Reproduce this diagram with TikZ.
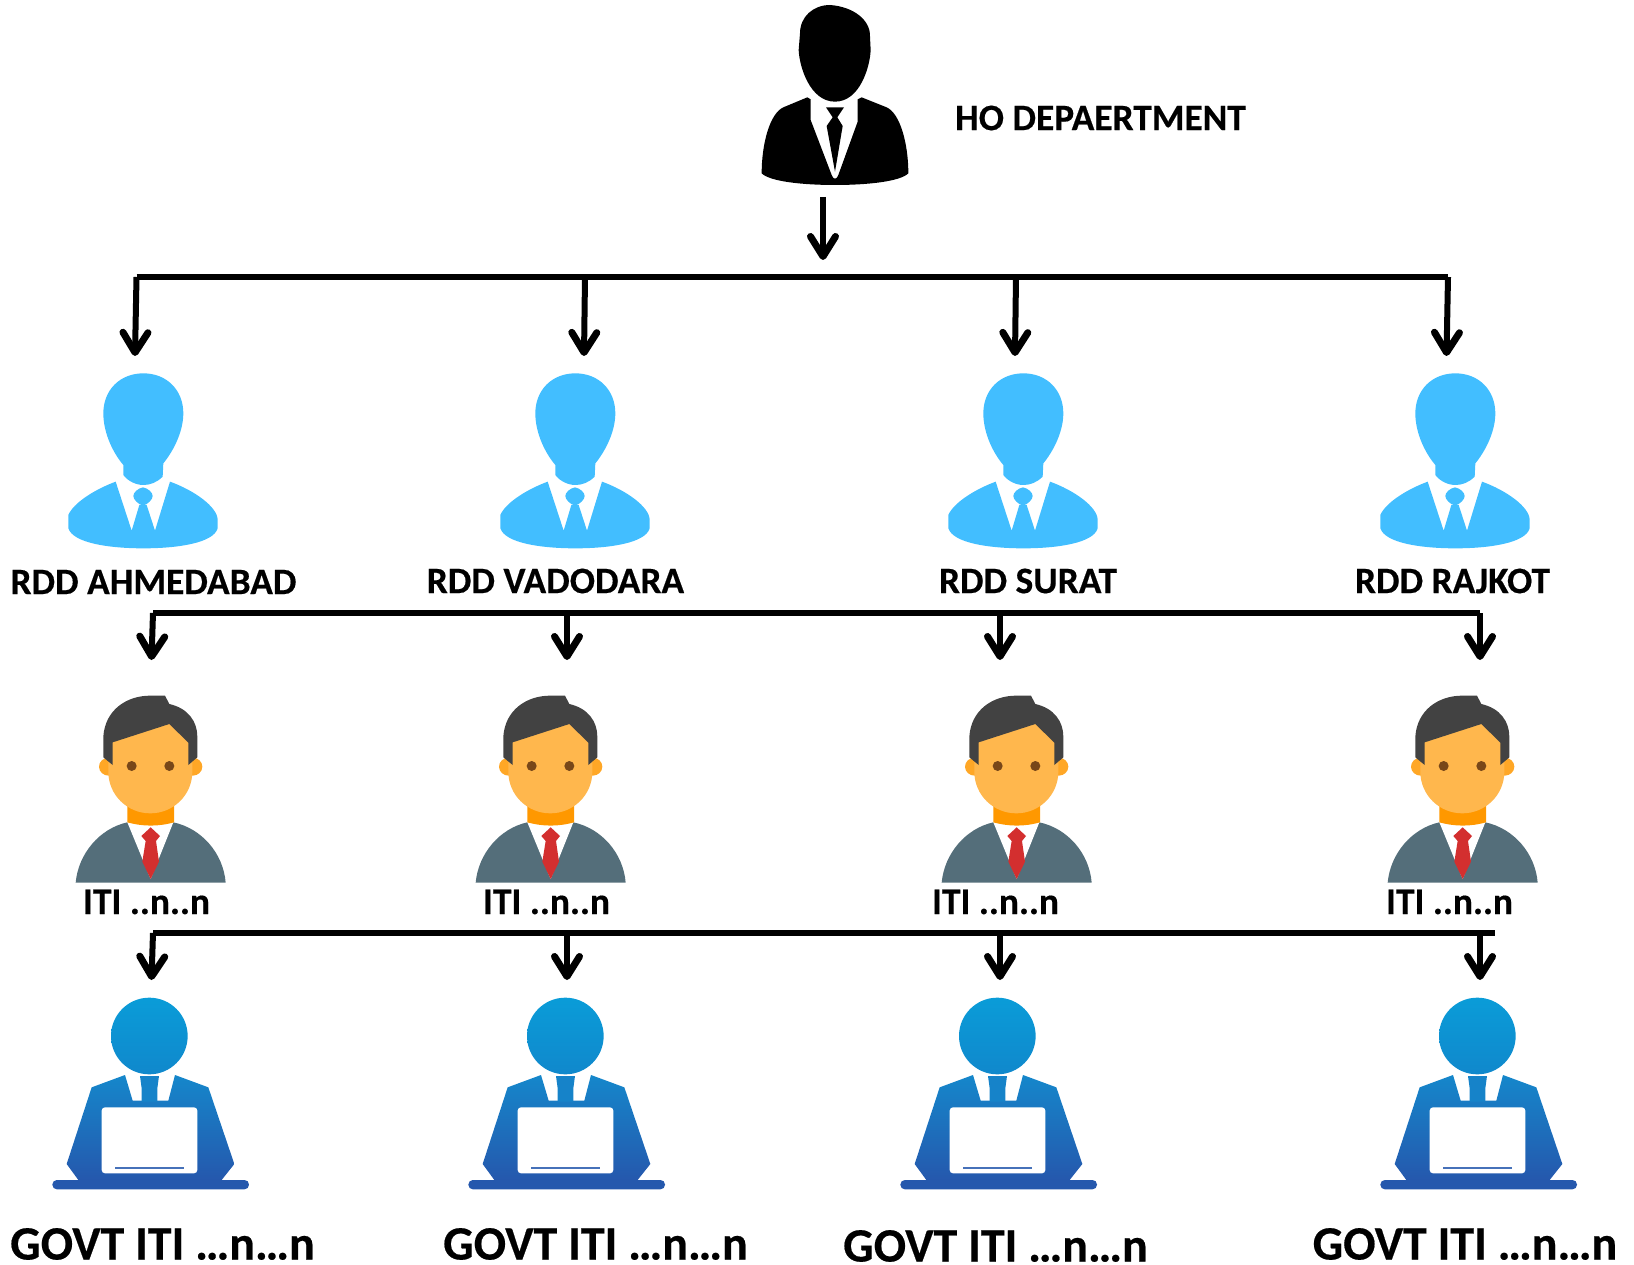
\documentclass[tikz,border=0pt]{standalone}
\usepackage{fontspec}
\setmainfont{Carlito}[BoldFeatures={FakeBold=0.4}]
\usetikzlibrary{arrows.meta}
\definecolor{rddblue}{HTML}{42BEFF}
\definecolor{hair}{HTML}{424242}
\definecolor{face}{HTML}{FFB74D}
\definecolor{ear}{HTML}{FFA726}
\definecolor{neck}{HTML}{FF9800}
\definecolor{suit}{HTML}{546E7A}
\definecolor{tiered}{HTML}{D32F2F}
\definecolor{eye}{HTML}{784719}
\definecolor{lapA}{HTML}{0A9CD8}
\definecolor{lapB}{HTML}{1088CC}
\definecolor{lapC}{HTML}{1587CB}
\definecolor{lapD}{HTML}{2558AD}
\tikzset{
  bar/.style={line width=6pt},
  drop/.style={line width=6pt,-{Straight Barb[round,length=20pt,width=25pt,line width=7pt]}},
  lab/.style={font=\bfseries\fontsize{37.4}{37.4}\selectfont,inner sep=0pt,anchor=center},
  iti/.style={font=\bfseries\fontsize{37.4}{37.4}\selectfont,inner sep=0pt,anchor=center},
  govt/.style={font=\bfseries\fontsize{47.9}{47.9}\selectfont,inner sep=0pt,anchor=center},
  chief/.pic={\begin{scope}[scale=1/3]
    \fill[black] (330,15) .. controls (400,20) and (452,60) .. (450,110) -- (452,150)
      .. controls (450,200) and (420,305) .. (345,305)
      .. controls (270,305) and (238,200) .. (236,150) -- (240,100)
      .. controls (240,50) and (280,15) .. (330,15) -- cycle;
    \fill[black] (262,292) -- (272,298) -- (272,360) -- (335,525)
      .. controls (340,540) and (350,540) .. (355,525) -- (413,365) -- (413,298) -- (425,292) -- (500,322)
      .. controls (540,340) and (565,430) .. (565,520)
      .. controls (540,545) and (440,555) .. (345,555)
      .. controls (250,555) and (150,545) .. (125,520)
      .. controls (125,430) and (150,340) .. (190,322) -- cycle;
    \fill[black] (318,322) -- (372,322) -- (352,352) -- (368,378) -- (345,515) -- (320,378) -- (338,352) -- cycle;
  \end{scope}},
  rddman/.pic={\begin{scope}[scale=1/3]
    \fill[rddblue] (280,40) .. controls (350,40) and (400,90) .. (400,160)
      .. controls (400,220) and (365,280) .. (340,310) -- (338,350)
      .. controls (320,368) and (300,375) .. (280,375)
      .. controls (260,375) and (235,365) .. (220,345) -- (220,315)
      .. controls (190,280) and (160,220) .. (160,160)
      .. controls (160,90) and (210,40) .. (280,40) -- cycle;
    \fill[rddblue] (197,365) -- (245,512) -- (268,435) -- (290,435) -- (315,512) -- (360,365)
      .. controls (430,390) and (503,440) .. (503,480) -- (503,505)
      .. controls (490,550) and (380,565) .. (280,565)
      .. controls (180,565) and (70,550) .. (55,505) -- (55,465)
      .. controls (70,430) and (130,390) .. (197,365) -- cycle;
    \fill[rddblue] (279,382) .. controls (295,385) and (308,398) .. (308,408)
      .. controls (308,418) and (295,432) .. (279,437)
      .. controls (263,432) and (250,418) .. (250,408)
      .. controls (250,398) and (263,385) .. (279,382) -- cycle;
  \end{scope}},
  itiman/.pic={\begin{scope}[scale=1/3]
    \fill[suit] (47,608) .. controls (55,520) and (120,445) .. (202,427) -- (340,427)
      .. controls (425,445) and (490,520) .. (497,608) -- cycle;
    \fill[white] (202,420) -- (340,420) -- (340,427) -- (272,597) -- (202,427) -- cycle;
    \fill[neck] (202,375) -- (342,375) -- (342,427) .. controls (295,440) and (250,440) .. (202,427) -- cycle;
    \fill[tiered] (272,442) -- (300,468) -- (288,483) -- (297,545) -- (272,597) -- (247,545) -- (257,483) -- (244,468) -- cycle;
    \fill[ear] (146,260) ellipse [x radius=29,y radius=27];
    \fill[ear] (398,260) ellipse [x radius=29,y radius=27];
    \fill[face] (145,130) -- (397,130) -- (397,275)
      .. controls (397,345) and (340,400) .. (271,400)
      .. controls (202,400) and (145,345) .. (145,275) -- cycle;
    \fill[hair] (158,255) -- (130,232) -- (130,170)
      .. controls (135,90) and (200,47) .. (270,47) -- (315,47) -- (328,72)
      .. controls (385,85) and (412,125) .. (412,170) -- (412,232) -- (385,255) -- (385,188)
      -- (328,132) -- (158,187) -- cycle;
    \fill[eye] (215,258) circle [radius=15];
    \fill[eye] (328,258) circle [radius=15];
  \end{scope}},
  lapman/.pic={\begin{scope}[scale=1/3]
    \shade[top color=lapA,bottom color=lapB] (328,138) circle [radius=115];
    \shade[top color=lapC,bottom color=lapD] (255,255) -- (278,332) -- (385,332) -- (405,255) -- (505,292) -- (583,522)
      -- (545,570) -- (115,570) -- (80,522) -- (155,292) -- cycle;
    \fill[lapC!92!lapD] (300,258) -- (357,258) -- (352,295) -- (352,335) -- (305,335) -- (305,295) -- cycle;
    \fill[lapD,rounded corners=4.5pt] (37,570) rectangle (627,598);
    \fill[white,rounded corners=3.3pt] (185,352) rectangle (472,550);
    \fill[lapD!85!white] (225,530) rectangle (433,537);
  \end{scope}}
}
\begin{document}
\begin{tikzpicture}[x=1pt,y=-1pt]
\useasboundingbox (0,0) rectangle (1634,1265);
% icons
\pic (hoicon) at (720,0) {chief};
\foreach \n/\dx in {a/0,b/432,c/880,d/1312}{
  \pic (rdd\n) at ({50+\dx},360) {rddman};
}
\foreach \n/\dx in {a/0,b/400,c/866,d/1312}{
  \pic (iti\n) at ({60+\dx},680) {itiman};
}
\foreach \n/\dx in {a/0,b/416,c/848,d/1328}{
  \pic (lap\n) at ({40+\dx},990) {lapman};
}
% labels
\node[lab] (ho) at (1100.5,118) {HO DEPAERTMENT};
\node[lab] (lr1) at (153.5,582) {RDD AHMEDABAD};
\node[lab] (lr2) at (555.5,581) {RDD VADODARA};
\node[lab] (lr3) at (1028,581) {RDD SURAT};
\node[lab] (lr4) at (1452.5,581) {RDD RAJKOT};
\node[iti] (li1) at (146.5,902) {ITI ..n..n};
\node[iti] (li2) at (546.5,902) {ITI ..n..n};
\node[iti] (li3) at (995.5,902) {ITI ..n..n};
\node[iti] (li4) at (1449.5,902) {ITI ..n..n};
\node[govt] (lg1) at (162.5,1244) {GOVT ITI …n…n};
\node[govt] (lg2) at (595.5,1244) {GOVT ITI …n…n};
\node[govt] (lg3) at (995.5,1246) {GOVT ITI …n…n};
\node[govt] (lg4) at (1465,1244) {GOVT ITI …n…n};
% connector coordinates
\coordinate (s0) at (823,197); \coordinate (e0) at (823,260);
\coordinate (t1) at (136.5,277); \coordinate (t2) at (585,277); \coordinate (t3) at (1016,277); \coordinate (t4) at (1448,277);
\coordinate (u1) at (135,356); \coordinate (u2) at (584,356); \coordinate (u3) at (1015,356); \coordinate (u4) at (1446.5,356);
\coordinate (m1) at (153,613); \coordinate (m2) at (567,613); \coordinate (m3) at (1000,613); \coordinate (m4) at (1480,613);
\coordinate (n1) at (151.5,660); \coordinate (n2) at (567,660); \coordinate (n3) at (1000,660); \coordinate (n4) at (1480,660);
\coordinate (b1) at (153,933); \coordinate (b2) at (567,933); \coordinate (b3) at (1000,933); \coordinate (b4) at (1480,933); \coordinate (b5) at (1495,933);
\coordinate (c1) at (151.5,980); \coordinate (c2) at (567,980); \coordinate (c3) at (1000,980); \coordinate (c4) at (1480,980);
% connectors
\draw[drop] (s0) -- (e0);
\draw[bar] (t1) -- (t4);
\draw[bar] (m1) -- (m4);
\draw[bar] (b1) -- (b5);
\foreach \i in {1,2,3,4}{
  \draw[drop] (t\i) -- (u\i);
  \draw[drop] (m\i) -- (n\i);
  \draw[drop] (b\i) -- (c\i);
}
\end{tikzpicture}
\end{document}
